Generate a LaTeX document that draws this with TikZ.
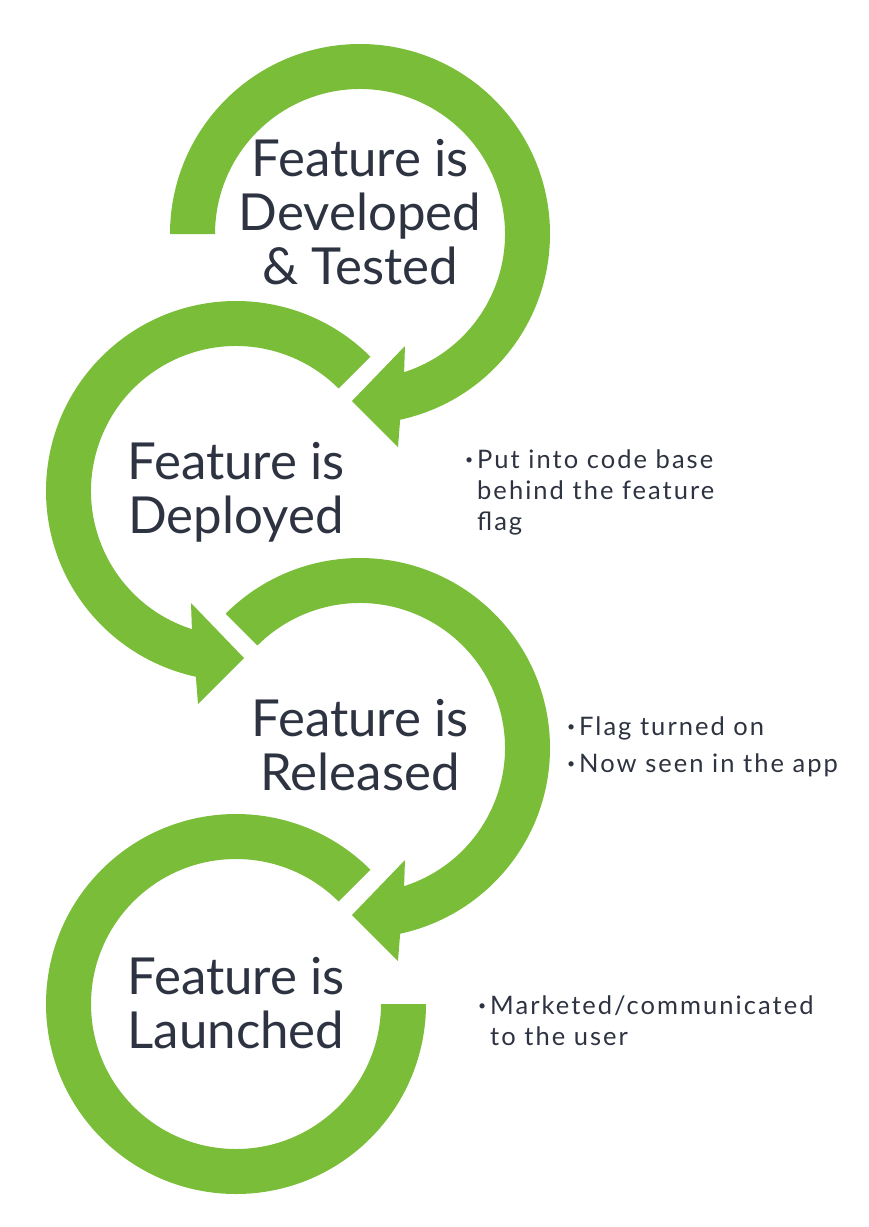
\documentclass[tikz,border=0pt]{standalone}
\usepackage{fontspec}
\setmainfont{Lato}
\newfontfamily\notefont[LetterSpace=8]{Lato}
\usepackage{tikz}
\usetikzlibrary{positioning}
\definecolor{leaf}{HTML}{7ABD39}
\definecolor{slate}{HTML}{2E3341}
\tikzset{
  ring/.style={fill=leaf,draw=none},
  stage/.style={color=slate,align=center,anchor=base,inner sep=0pt,
                font=\fontsize{51}{54}\selectfont},
  note/.style={color=slate,align=left,anchor=base west,inner sep=0pt,
               font=\notefont\fontsize{25.5}{31}\selectfont}
}
\newcommand{\dotmark}{\llap{\raisebox{0.3ex}{\fontsize{14}{14}\selectfont\textbullet}\hspace{4pt}}}

\begin{document}
\begin{tikzpicture}[x=1pt,y=1pt]
    \path[use as bounding box] (0,0) rectangle (869,-1227);
    % clockwise loop, arrow at the bottom
    \begin{scope}[shift={(360,-234)}]
      \fill[ring] (180:190) arc[start angle=180,end angle=-77.8,radius=190]
        -- (38,-213) -- (-8,-167) -- (45,-112) -- (-72.3:145)
        arc[start angle=-72.3,end angle=180,radius=145] -- cycle;
    \end{scope}
    \begin{scope}[shift={(236,-491)}]
      \fill[ring] (45:190) arc[start angle=45,end angle=257.8,radius=190]
        -- (-38,-213) -- (8,-167) -- (-45,-112) -- (252.3:145)
        arc[start angle=252.3,end angle=45,radius=145] -- cycle;
    \end{scope}
    \begin{scope}[shift={(360,-748)}]
      \fill[ring] (135:190) arc[start angle=135,end angle=-77.8,radius=190]
        -- (38,-213) -- (-8,-167) -- (45,-112) -- (-72.3:145)
        arc[start angle=-72.3,end angle=135,radius=145] -- cycle;
    \end{scope}
    \begin{scope}[shift={(236,-1004)}]
      \fill[ring] (45:190) arc[start angle=45,end angle=360,radius=190]
        -- (0:145) arc[start angle=360,end angle=45,radius=145] -- cycle;
    \end{scope}
    % base anchor sits on the last line
    \node[stage] (dev) at (360,-284) {Feature is\\Developed\\\&~Tested};
    \node[stage] (dep) at (236,-533) {Feature is\\Deployed};
    \node[stage] (rel) at (360,-790) {Feature is\\Released};
    \node[stage] (lau) at (236,-1048) {Feature is\\Launched};
    \node[note] (depnote) at (477,-530)
      {\dotmark Put into code base\\behind the feature\\flag};
    \node[note] (relnote) at (579,-772)
      {\dotmark Flag turned on\\[6pt]\dotmark Now seen in the app};
    \node[note] (launote) at (490,-1045)
      {\dotmark Marketed/communicated\\to the user};
  \end{tikzpicture}
\end{document}
